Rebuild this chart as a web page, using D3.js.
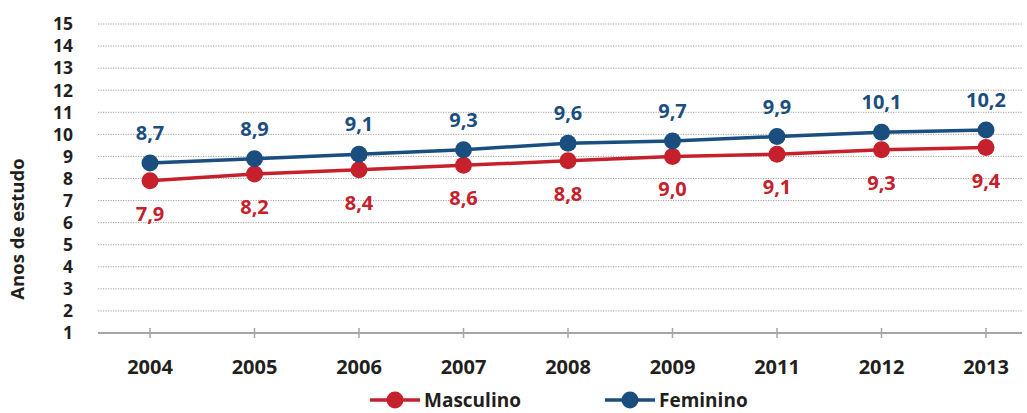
<!DOCTYPE html>
<html><head><meta charset="utf-8">
<script src="https://cdn.jsdelivr.net/npm/d3@7/dist/d3.min.js"></script>
<style>body{margin:0;background:#fff}svg{display:block}text{font-family:"Open Sans",sans-serif;font-weight:700}</style>
</head><body><svg width="1027" height="413"></svg>
<script>
const years = ["2004","2005","2006","2007","2008","2009","2011","2012","2013"];
const masculino = [7.9,8.2,8.4,8.6,8.8,9.0,9.1,9.3,9.4];
const feminino = [8.7,8.9,9.1,9.3,9.6,9.7,9.9,10.1,10.2];
const yTicks = [1,2,3,4,5,6,7,8,9,10,11,12,13,14,15];
const seriesNames = ["Masculino","Feminino"];
const colors = {Masculino:"#c5202b", Feminino:"#1a4e7f"};

const svg = d3.select("svg");
const plotL = 98, plotR = 1022;
const x = d3.scalePoint().domain(years).range([150, 986]);
const y = d3.scaleLinear().domain([1,15]).range([333, 24]);

// gridlines
svg.append("g").selectAll("line").data(yTicks.filter(d=>d>1)).join("line")
  .attr("x1",plotL).attr("x2",plotR).attr("y1",d=>y(d)).attr("y2",d=>y(d))
  .attr("stroke","#a0a0a0").attr("stroke-width",1).attr("stroke-dasharray","1.2,1.3");

// y labels
svg.append("g").selectAll("text").data(yTicks).join("text")
  .attr("x",73).attr("y",d=>y(d)).attr("dy","0.36em").attr("text-anchor","end")
  .attr("font-size",17.5).attr("fill","#231f20").text(d=>d);

// x axis line
svg.append("line").attr("x1",plotL).attr("x2",plotR).attr("y1",y(1)).attr("y2",y(1))
  .attr("stroke","#a6a6a6").attr("stroke-width",2);
svg.append("g").selectAll("line").data(years).join("line")
  .attr("x1",d=>x(d)).attr("x2",d=>x(d)).attr("y1",y(1)-5).attr("y2",y(1)+5)
  .attr("stroke","#a6a6a6").attr("stroke-width",1.5);
svg.append("g").selectAll("text").data(years).join("text")
  .attr("x",d=>x(d)).attr("y",374).attr("text-anchor","middle")
  .attr("font-size",20).attr("fill","#231f20").text(d=>d);

// y title
svg.append("text").attr("transform","translate(24,229) rotate(-90)").attr("text-anchor","middle")
  .attr("font-size",18.5).attr("fill","#231f20").text("Anos de estudo");

const line = d3.line().x((d,i)=>x(years[i])).y(d=>y(d));
const data = {Masculino:masculino, Feminino:feminino};
seriesNames.forEach(name=>{
  const vals = data[name], c = colors[name];
  svg.append("path").datum(vals).attr("d",line).attr("fill","none").attr("stroke",c).attr("stroke-width",3.5);
  svg.append("g").selectAll("circle").data(vals).join("circle")
    .attr("cx",(d,i)=>x(years[i])).attr("cy",d=>y(d)).attr("r",8.5).attr("fill",c);
  svg.append("g").selectAll("text").data(vals).join("text")
    .attr("x",(d,i)=>x(years[i])).attr("y",d=> name==="Feminino" ? y(d)-23 : y(d)+40)
    .attr("text-anchor","middle").attr("font-size",20).attr("fill",c)
    .text(d=>d.toFixed(1).replace(".",","));
});

// legend
const legX = {Masculino:370, Feminino:605};
seriesNames.forEach(name=>{
  const g = svg.append("g").attr("transform",`translate(${legX[name]},400)`);
  g.append("line").attr("x1",0).attr("x2",50).attr("stroke",colors[name]).attr("stroke-width",3.5);
  g.append("circle").attr("cx",25).attr("r",8.5).attr("fill",colors[name]);
  g.append("text").attr("x",54).attr("dy","0.36em").attr("font-size",19).attr("fill","#231f20").text(name);
});
</script></body></html>
